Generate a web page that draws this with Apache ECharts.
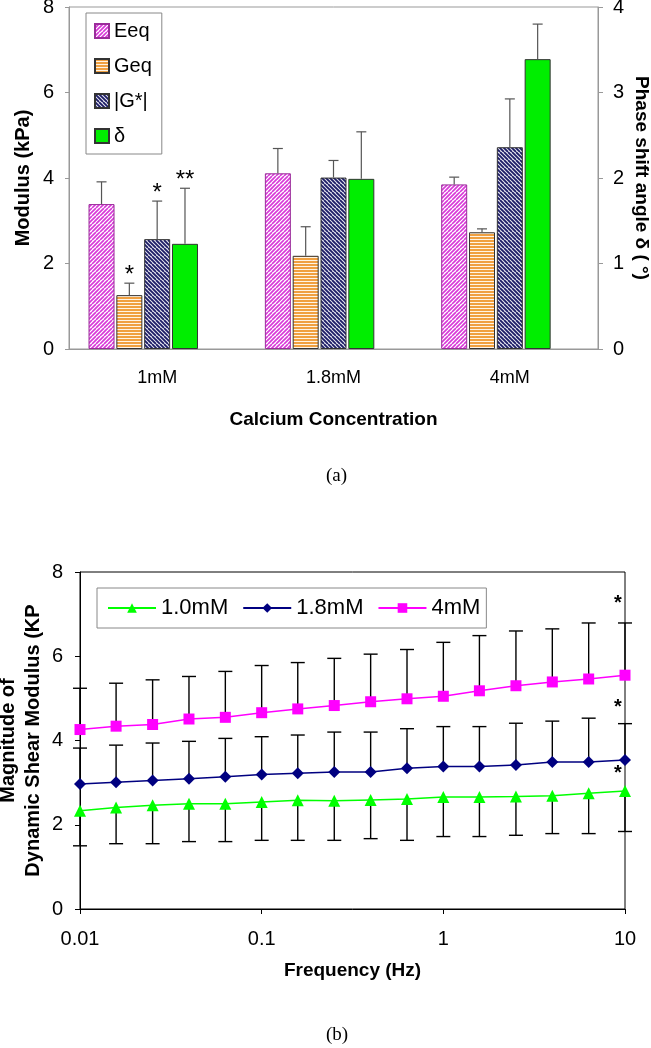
<!DOCTYPE html>
<html>
<head>
<meta charset="utf-8">
<script src="https://cdn.jsdelivr.net/npm/echarts@6/dist/echarts.min.js"></script>
<style>html,body{margin:0;padding:0;background:#fff;}#c{width:651px;height:1048px;}</style>
</head>
<body>
<div id="c"></div>
<script>
// ---------- Data: panel (a) ----------
const categories = ['1mM', '1.8mM', '4mM'];
const eeq      = [3.39, 4.11, 3.85];
const eeqTop   = [3.91, 4.69, 4.02];
const geq      = [1.26, 2.18, 2.73];
const geqTop   = [1.54, 2.86, 2.81];
const gstar    = [2.57, 4.01, 4.72];
const gstarTop = [3.46, 4.41, 5.85];
const delta    = [1.23, 1.99, 3.39];   // degrees, right axis
const deltaTop = [1.88, 2.54, 3.80];
const starsA   = [ {series: 1, cat: 0, text: '*'}, {series: 2, cat: 0, text: '*'}, {series: 3, cat: 0, text: '**'} ];
const leftTicksA  = [0, 2, 4, 6, 8];
const rightTicksA = [0, 1, 2, 3, 4];

// ---------- Data: panel (b) ----------
const freq  = [0.01, 0.0158, 0.0251, 0.0398, 0.0631, 0.1, 0.158, 0.251, 0.398, 0.631, 1, 1.58, 2.51, 3.98, 6.31, 10];
const g10   = [2.33, 2.41, 2.46, 2.50, 2.50, 2.54, 2.58, 2.57, 2.59, 2.61, 2.66, 2.66, 2.67, 2.69, 2.75, 2.80];
const g10Lo = [1.50, 1.55, 1.55, 1.60, 1.60, 1.63, 1.63, 1.63, 1.67, 1.63, 1.72, 1.72, 1.75, 1.79, 1.79, 1.84];
const g18   = [2.97, 3.01, 3.05, 3.09, 3.14, 3.19, 3.22, 3.25, 3.25, 3.34, 3.38, 3.38, 3.42, 3.49, 3.49, 3.54];
const g18Hi = [3.82, 3.89, 3.94, 3.98, 4.05, 4.09, 4.13, 4.20, 4.20, 4.28, 4.33, 4.33, 4.41, 4.46, 4.53, 4.40];
const g40   = [4.26, 4.34, 4.38, 4.51, 4.55, 4.66, 4.75, 4.83, 4.92, 4.99, 5.05, 5.18, 5.30, 5.39, 5.46, 5.55];
const g40Hi = [5.24, 5.36, 5.44, 5.52, 5.64, 5.78, 5.85, 5.95, 6.05, 6.16, 6.33, 6.49, 6.60, 6.65, 6.79, 6.79];
const starsB = [ {x: 10, y: 7.25, text: '*'}, {x: 10, y: 4.78, text: '*'}, {x: 10, y: 3.22, text: '*'} ];

// ---------- Styling helpers ----------
const FONT = '"Liberation Sans", Arial, sans-serif';
function hatch(kind, bg, fg, lw) {
  const c = document.createElement('canvas');
  const n = kind === 'h' ? 6 : 8;
  c.width = n; c.height = n;
  const g = c.getContext('2d');
  g.fillStyle = bg; g.fillRect(0, 0, n, n);
  g.strokeStyle = fg; g.fillStyle = fg; g.lineWidth = lw;
  if (kind === 'h') {
    g.fillRect(0, 0, n, 2); g.fillRect(0, 3, n, 2);
  } else {
    g.beginPath();
    for (let k = -8; k <= 16; k += 4) {
      if (kind === '/') { g.moveTo(k, 8); g.lineTo(k + 8, 0); }
      else { g.moveTo(k, 0); g.lineTo(k + 8, 8); }
    }
    g.stroke();
  }
  return { image: c, repeat: 'repeat' };
}
const BAR_W = 26, BAR_GAP_PCT = 7;
const PITCH = BAR_W * (1 + BAR_GAP_PCT / 100);

function barSeries(name, data, fill, border, yIdx) {
  return {
    type: 'bar', name, data, xAxisIndex: 0, yAxisIndex: yIdx,
    barWidth: BAR_W, barGap: BAR_GAP_PCT + '%',
    itemStyle: { color: fill, borderColor: border, borderWidth: 1 },
    emphasis: { disabled: true }, z: 2
  };
}

const errRowsLeft = [];
[[eeq, eeqTop], [geq, geqTop], [gstar, gstarTop]].forEach((pair, s) => {
  pair[0].forEach((v, c) => errRowsLeft.push([c, v, pair[1][c], s]));
});
const errRowsRight = delta.map((v, c) => [c, v, deltaTop[c], 3]);

function barErrRender(params, api) {
  const c = api.value(0), base = api.value(1), top = api.value(2), slot = api.value(3);
  const p0 = api.coord([c, base]), p1 = api.coord([c, top]);
  const x = p0[0] + (slot - 2) * PITCH;
  const st = { stroke: '#555', lineWidth: 1.2 };
  const children = [
    { type: 'line', shape: { x1: x, y1: p0[1], x2: x, y2: p1[1] }, style: st },
    { type: 'line', shape: { x1: x - 5, y1: p1[1], x2: x + 5, y2: p1[1] }, style: st }
  ];
  const star = starsA.find(a => a.series === slot && a.cat === c);
  if (star) {
    children.push({ type: 'text', style: { text: star.text, x: x, y: p1[1] + 4, align: 'center', verticalAlign: 'bottom',
      font: '24px ' + FONT, fill: '#000' } });
  }
  return { type: 'group', children };
}

function lineErrRender(params, api) {
  const p0 = api.coord([api.value(0), api.value(1)]);
  const p1 = api.coord([api.value(0), api.value(2)]);
  const st = { stroke: '#000', lineWidth: 1.4 };
  return { type: 'group', children: [
    { type: 'line', shape: { x1: p0[0], y1: p0[1], x2: p1[0], y2: p1[1] }, style: st },
    { type: 'line', shape: { x1: p1[0] - 7, y1: p1[1], x2: p1[0] + 7, y2: p1[1] }, style: st }
  ]};
}
function errRows(vals, ends) { return freq.map((f, i) => [f, vals[i], ends[i]]); }

const chart = echarts.init(document.getElementById('c'), null, { renderer: 'canvas' });
const option = {
  animation: false,
  backgroundColor: '#fff',
  textStyle: { fontFamily: FONT },
  title: [
    { text: '(a)', left: 321, top: 462, textStyle: { fontFamily: '"Liberation Serif", serif', fontSize: 19, fontWeight: 'normal', color: '#000' } },
    { text: '(b)', left: 321, top: 1021, textStyle: { fontFamily: '"Liberation Serif", serif', fontSize: 19, fontWeight: 'normal', color: '#000' } }
  ],
  grid: [
    { left: 69, right: 53, top: 7, bottom: 699, show: true, borderColor: '#999', borderWidth: 1, containLabel: false, outerBoundsMode: 'none' },
    { left: 80, right: 26, top: 572, bottom: 139, show: true, borderColor: '#000', borderWidth: 1, containLabel: false, outerBoundsMode: 'none' }
  ],
  legend: [
    { orient: 'vertical', left: 86, top: 13, padding: [8, 10, 8, 8], itemGap: 15, itemWidth: 14, itemHeight: 14,
      icon: 'rect', borderColor: '#888', borderWidth: 1, backgroundColor: '#fff',
      textStyle: { fontSize: 20, color: '#000', fontFamily: FONT },
      data: ['Eeq', 'Geq', '|G*|', 'δ'] },
    { orient: 'horizontal', left: 97, top: 588, padding: [9, 6, 9, 10], itemGap: 14, itemWidth: 48, itemHeight: 12,
      borderColor: '#888', borderWidth: 1, backgroundColor: '#fff',
      textStyle: { fontSize: 22, color: '#000', fontFamily: FONT },
      data: ['1.0mM', '1.8mM', '4mM'] }
  ],
  xAxis: [
    { type: 'category', gridIndex: 0, data: categories,
      axisLine: { lineStyle: { color: '#999' } },
      axisTick: { length: 5, lineStyle: { color: '#999' } },
      axisLabel: { fontSize: 18, color: '#000', margin: 20 },
      name: 'Calcium Concentration', nameLocation: 'middle', nameGap: 61, nameMoveOverlap: false,
      nameTextStyle: { fontSize: 19, fontWeight: 'bold', color: '#000' } },
    { type: 'log', logBase: 10, gridIndex: 1, min: 0.01, max: 10,
      axisLine: { lineStyle: { color: '#000' } },
      axisTick: { length: 5, lineStyle: { color: '#000' } },
      axisLabel: { fontSize: 20, color: '#000', margin: 20, formatter: v => String(+v.toPrecision(3)) },
      splitLine: { show: false }, minorTick: { show: false },
      name: 'Frequency (Hz)', nameLocation: 'middle', nameGap: 52, nameMoveOverlap: false,
      nameTextStyle: { fontSize: 19, fontWeight: 'bold', color: '#000' } }
  ],
  yAxis: [
    { type: 'value', gridIndex: 0, min: leftTicksA[0], max: leftTicksA[leftTicksA.length - 1], interval: 2,
      axisLine: { show: true, lineStyle: { color: '#999' } },
      axisTick: { show: true, length: 4, lineStyle: { color: '#999' } },
      axisLabel: { fontSize: 20, color: '#000', margin: 15 },
      splitLine: { show: false },
      name: 'Modulus (kPa)', nameLocation: 'middle', nameGap: 36, nameMoveOverlap: false,
      nameTextStyle: { fontSize: 20, fontWeight: 'bold', color: '#000' } },
    { type: 'value', gridIndex: 0, position: 'right', min: rightTicksA[0], max: rightTicksA[rightTicksA.length - 1], interval: 1,
      axisLine: { show: true, lineStyle: { color: '#999' } },
      axisTick: { show: true, length: 5, lineStyle: { color: '#999' } },
      axisLabel: { fontSize: 20, color: '#000', margin: 15 },
      splitLine: { show: false },
      name: 'Phase shift angle δ ( °)', nameLocation: 'middle', nameGap: 34, nameRotate: -90, nameMoveOverlap: false,
      nameTextStyle: { fontSize: 19, fontWeight: 'bold', color: '#000' } },
    { type: 'value', gridIndex: 1, min: 0, max: 8, interval: 2,
      axisLine: { show: true, lineStyle: { color: '#000' } },
      axisTick: { show: true, length: 5, lineStyle: { color: '#000' } },
      axisLabel: { fontSize: 20, color: '#000', margin: 17 },
      splitLine: { show: false },
      name: 'Magnitude of\nDynamic Shear Modulus (KP', nameLocation: 'middle', nameGap: 34, nameMoveOverlap: false,
      nameTextStyle: { fontSize: 20, fontWeight: 'bold', color: '#000', lineHeight: 25 } }
  ],
  series: [
    barSeries('Eeq', eeq, hatch('/', '#ffffff', '#d838d8', 1.6), '#9a2c9a', 0),
    barSeries('Geq', geq, hatch('h', '#fff4e4', '#f0a040', 1), '#333', 0),
    barSeries('|G*|', gstar, hatch('\\', '#e8e8f0', '#1c1c66', 1.8), '#333', 0),
    barSeries('δ', delta, '#00ee00', '#333', 1),
    barSeries('', [null, null, null], 'rgba(0,0,0,0)', 'rgba(0,0,0,0)', 0),
    { type: 'custom', name: 'errA', xAxisIndex: 0, yAxisIndex: 0, data: errRowsLeft, renderItem: barErrRender, z: 5, silent: true },
    { type: 'custom', name: 'errA2', xAxisIndex: 0, yAxisIndex: 1, data: errRowsRight,
      renderItem: (p, api) => barErrRender(p, api), z: 5, silent: true },
    { type: 'custom', name: 'err10', xAxisIndex: 1, yAxisIndex: 2, data: errRows(g10, g10Lo), renderItem: lineErrRender, z: 1, silent: true },
    { type: 'custom', name: 'err18', xAxisIndex: 1, yAxisIndex: 2, data: errRows(g18, g18Hi), renderItem: lineErrRender, z: 1, silent: true },
    { type: 'custom', name: 'err40', xAxisIndex: 1, yAxisIndex: 2, data: errRows(g40, g40Hi), renderItem: lineErrRender, z: 1, silent: true },
    { type: 'line', name: '1.0mM', xAxisIndex: 1, yAxisIndex: 2, data: freq.map((f, i) => [f, g10[i]]),
      symbol: 'triangle', symbolSize: 12, color: '#00ff00', lineStyle: { width: 1.5, color: '#00ff00' }, z: 3 },
    { type: 'line', name: '1.8mM', xAxisIndex: 1, yAxisIndex: 2, data: freq.map((f, i) => [f, g18[i]]),
      symbol: 'diamond', symbolSize: 12, color: '#000080', lineStyle: { width: 1.5, color: '#000080' }, z: 3 },
    { type: 'line', name: '4mM', xAxisIndex: 1, yAxisIndex: 2, data: freq.map((f, i) => [f, g40[i]]),
      symbol: 'rect', symbolSize: 11, color: '#ff00ff', lineStyle: { width: 1.5, color: '#ff00ff' }, z: 3 },
    { type: 'custom', name: 'starsB', xAxisIndex: 1, yAxisIndex: 2, data: starsB.map(s => [s.x, s.y]), silent: true, z: 6,
      renderItem: (p, api) => {
        const pt = api.coord([api.value(0), api.value(1)]);
        return { type: 'text', style: { text: starsB[p.dataIndex].text, x: pt[0] - 7, y: pt[1], align: 'center', verticalAlign: 'middle',
          font: 'bold 20px ' + FONT, fill: '#000' } };
      } }
  ]
};
chart.setOption(option);
</script>
</body>
</html>
